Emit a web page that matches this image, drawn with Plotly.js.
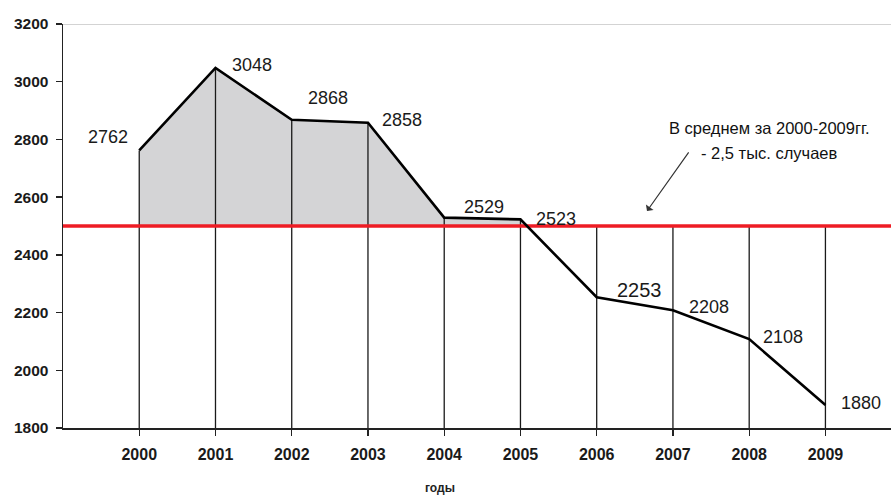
<!DOCTYPE html>
<html>
<head>
<meta charset="utf-8">
<script src="https://cdn.plot.ly/plotly-3.0.1.min.js"></script>
<style>
  html, body { margin: 0; padding: 0; background: #fff; }
  #chart { width: 891px; height: 495px; }
</style>
</head>
<body>
<div id="chart"></div>
<script>
// Число случаев по годам
const years = [2000, 2001, 2002, 2003, 2004, 2005, 2006, 2007, 2008, 2009];
const cases = [2762, 3048, 2868, 2858, 2529, 2523, 2253, 2208, 2108, 1880];
const average = 2500;
const yTicks = [1800, 2000, 2200, 2400, 2600, 2800, 3000, 3200];
const axisTitle = 'годы';
const noteLines = ['В среднем за 2000-2009гг.', '- 2,5 тыс. случаев'];

// Label offsets (px, screen direction: +x right, +y down) relative to each point
const labelShift = [
  [-31, -13], [37, -3], [36, -22], [34, -3], [40, -11],
  [36, 0], [43, -7], [36, -3], [34, -2], [36, -2]
];
const labelSize = [18, 18, 18, 18, 18, 18, 20, 18, 18, 18];

const FONT = 'Liberation Sans, Arial, sans-serif';

// Grey band between the curve and the average while the curve is above it
const fillX = [], fillY = [];
for (let i = 0; i < years.length; i++) {
  if (cases[i] >= average) {
    fillX.push(years[i]); fillY.push(cases[i]);
    if (i + 1 < years.length && cases[i + 1] < average) {
      const t = (cases[i] - average) / (cases[i] - cases[i + 1]);
      fillX.push(years[i] + t * (years[i + 1] - years[i])); fillY.push(average);
    }
  }
}
const firstAbove = fillX[0];
const lastAbove = fillX[fillX.length - 1];
const polyX = fillX.concat([lastAbove, firstAbove]);
const polyY = fillY.concat([average, average]);

// Vertical drop lines: up to the curve where above average, else up to the average
const dropX = [], dropY = [];
years.forEach((yr, i) => {
  dropX.push(yr, yr, null);
  dropY.push(yTicks[0], Math.max(cases[i], average), null);
});

const traces = [
  { x: polyX, y: polyY, type: 'scatter', mode: 'lines', fill: 'toself',
    fillcolor: '#d4d4d6', line: { width: 0, color: 'rgba(0,0,0,0)' }, hoverinfo: 'skip' },
  { x: dropX, y: dropY, type: 'scatter', mode: 'lines',
    line: { color: '#1a1a1a', width: 1.3 }, hoverinfo: 'skip' },
  { x: [1999, 2010], y: [average, average], type: 'scatter', mode: 'lines',
    line: { color: '#ee1c24', width: 3.5 }, hoverinfo: 'skip' },
  { x: years, y: cases, type: 'scatter', mode: 'lines',
    line: { color: '#000', width: 2.6 } }
];

const annotations = years.map((yr, i) => ({
  x: yr, y: cases[i], xref: 'x', yref: 'y',
  text: String(cases[i]), showarrow: false,
  xshift: labelShift[i][0], yshift: -labelShift[i][1],
  font: { family: FONT, size: labelSize[i], color: '#1a1a1a' }
}));

annotations.push({
  x: 2008.27, y: 2840, xref: 'x', yref: 'y',
  text: noteLines[0], showarrow: false,
  font: { family: FONT, size: 16.5, color: '#111' }
});
annotations.push({
  x: 2008.27, y: 2753, xref: 'x', yref: 'y',
  text: noteLines[1], showarrow: false,
  font: { family: FONT, size: 16.5, color: '#111' }
});
// Arrow pointing to the average line
annotations.push({
  x: 2006.66, y: 2552, xref: 'x', yref: 'y',
  ax: 2007.22, ay: 2760, axref: 'x', ayref: 'y',
  showarrow: true, arrowhead: 1, arrowsize: 1.3, arrowwidth: 1.2,
  arrowcolor: '#333', text: ''
});
annotations.push({
  x: 0.455, y: 0, xref: 'paper', yref: 'paper', yanchor: 'middle', yshift: -60,
  text: '<b>' + axisTitle + '</b>', showarrow: false,
  font: { family: FONT, size: 12, color: '#222' }
});

const layout = {
  width: 891, height: 495,
  margin: { l: 63, r: 0, t: 24, b: 67 },
  paper_bgcolor: '#fff', plot_bgcolor: '#fff',
  showlegend: false,
  xaxis: {
    type: 'linear', range: [1999, 2009.86],
    tickvals: years, ticktext: years.map(v => '<b>' + v + '</b>'),
    ticks: 'outside', ticklen: 6, tickcolor: '#222', tickwidth: 1.3,
    showline: true, linecolor: '#222', linewidth: 1.5,
    showgrid: false, zeroline: false, ticklabelstandoff: 5,
    tickfont: { family: FONT, size: 16, color: '#1a1a1a' }
  },
  yaxis: {
    range: [1800, 3200], tickvals: yTicks,
    ticktext: yTicks.map(v => '<b>' + v + '</b>'),
    ticks: 'outside', ticklen: 6, tickcolor: '#222', tickwidth: 1.3,
    showline: true, linecolor: '#222', linewidth: 1.5,
    showgrid: false, zeroline: false, ticklabelstandoff: 4,
    tickfont: { family: FONT, size: 15.5, color: '#1a1a1a' }
  },
  shapes: [
    { type: 'line', xref: 'paper', yref: 'y', x0: 0, x1: 1, y0: 3200, y1: 3200,
      line: { color: '#a8a8a8', width: 1.2 } }
  ],
  annotations: annotations
};

Plotly.newPlot('chart', traces, layout, { staticPlot: true });
</script>
</body>
</html>
